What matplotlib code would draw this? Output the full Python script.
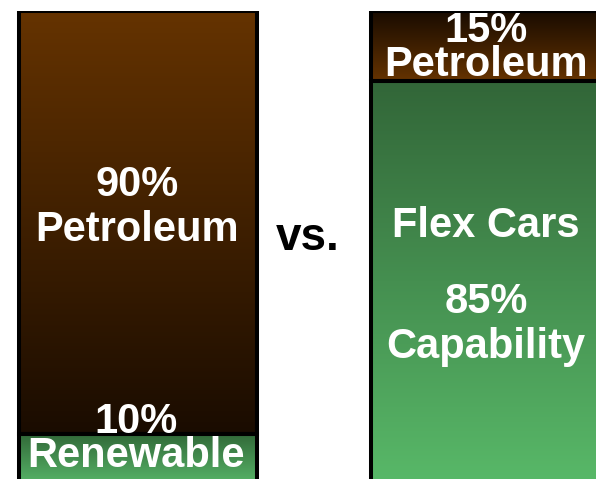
import numpy as np
import matplotlib.pyplot as plt
from matplotlib.colors import LinearSegmentedColormap

plt.rcParams['font.family'] = ['Liberation Sans', 'DejaVu Sans']

# fuel shares, bottom segment first
left_names = ["Renewable", "Petroleum"]
left_values = [10, 90]
right_names = ["Capability", "Petroleum"]
right_values = [85, 15]

fig = plt.figure(figsize=(5.96, 4.79), dpi=100)
ax = fig.add_axes([0, -2/479, 1, 470/479])


def fill_gradient(bar, top, bottom):
    x, y = bar.get_x(), bar.get_y()
    w, h = bar.get_width(), bar.get_height()
    cmap = LinearSegmentedColormap.from_list('grad', [bottom, top])
    grad = np.linspace(0, 1, 256).reshape(-1, 1)
    im = ax.imshow(grad, cmap=cmap, extent=(x, x + w, y, y + h),
                   origin='lower', aspect='auto', zorder=1)
    im.set_clip_path(bar)


# left bar: today's fuel
lb = ax.bar([138, 138], left_values, bottom=[0, left_values[0]], width=238,
            facecolor='none', edgecolor='black', linewidth=2.9, zorder=3)
fill_gradient(lb[0], '#316838', '#55b065')
fill_gradient(lb[1], '#653300', '#1a0c00')

# right bar: flex fuel cars
rb = ax.bar([486, 486], right_values, bottom=[0, right_values[0]], width=230,
            facecolor='none', edgecolor='black', linewidth=2.9, zorder=3)
fill_gradient(rb[0], '#326638', '#58b868')
fill_gradient(rb[1], '#180b00', '#653300')

ax.set_xlim(0, 596)
ax.set_ylim(0, 100)
ax.axis('off')

txt = dict(color='white', fontsize=30, fontweight='bold', ha='center',
           va='baseline', multialignment='center', zorder=4)
ax.text(137, 51.1, f"{left_values[1]}%\n{left_names[1]}", linespacing=1.15, **txt)
# tight two-line labels across the segment boundaries
ax.text(136, 3.0, f"{left_values[0]}%\n{left_names[0]}", linespacing=0.8, **txt)
ax.text(486, 86.2, f"{right_values[1]}%\n{right_names[1]}", linespacing=0.8, **txt)

ax.text(486, 51.9, "Flex Cars", **txt)
ax.text(486, 26.2, f"{right_values[0]}%\n{right_names[0]}", linespacing=1.15, **txt)

ax.text(308, 49.1, "vs.", color='black', fontsize=33, fontweight='bold',
        ha='center', va='baseline')

fig.savefig("out.png", dpi=100)
